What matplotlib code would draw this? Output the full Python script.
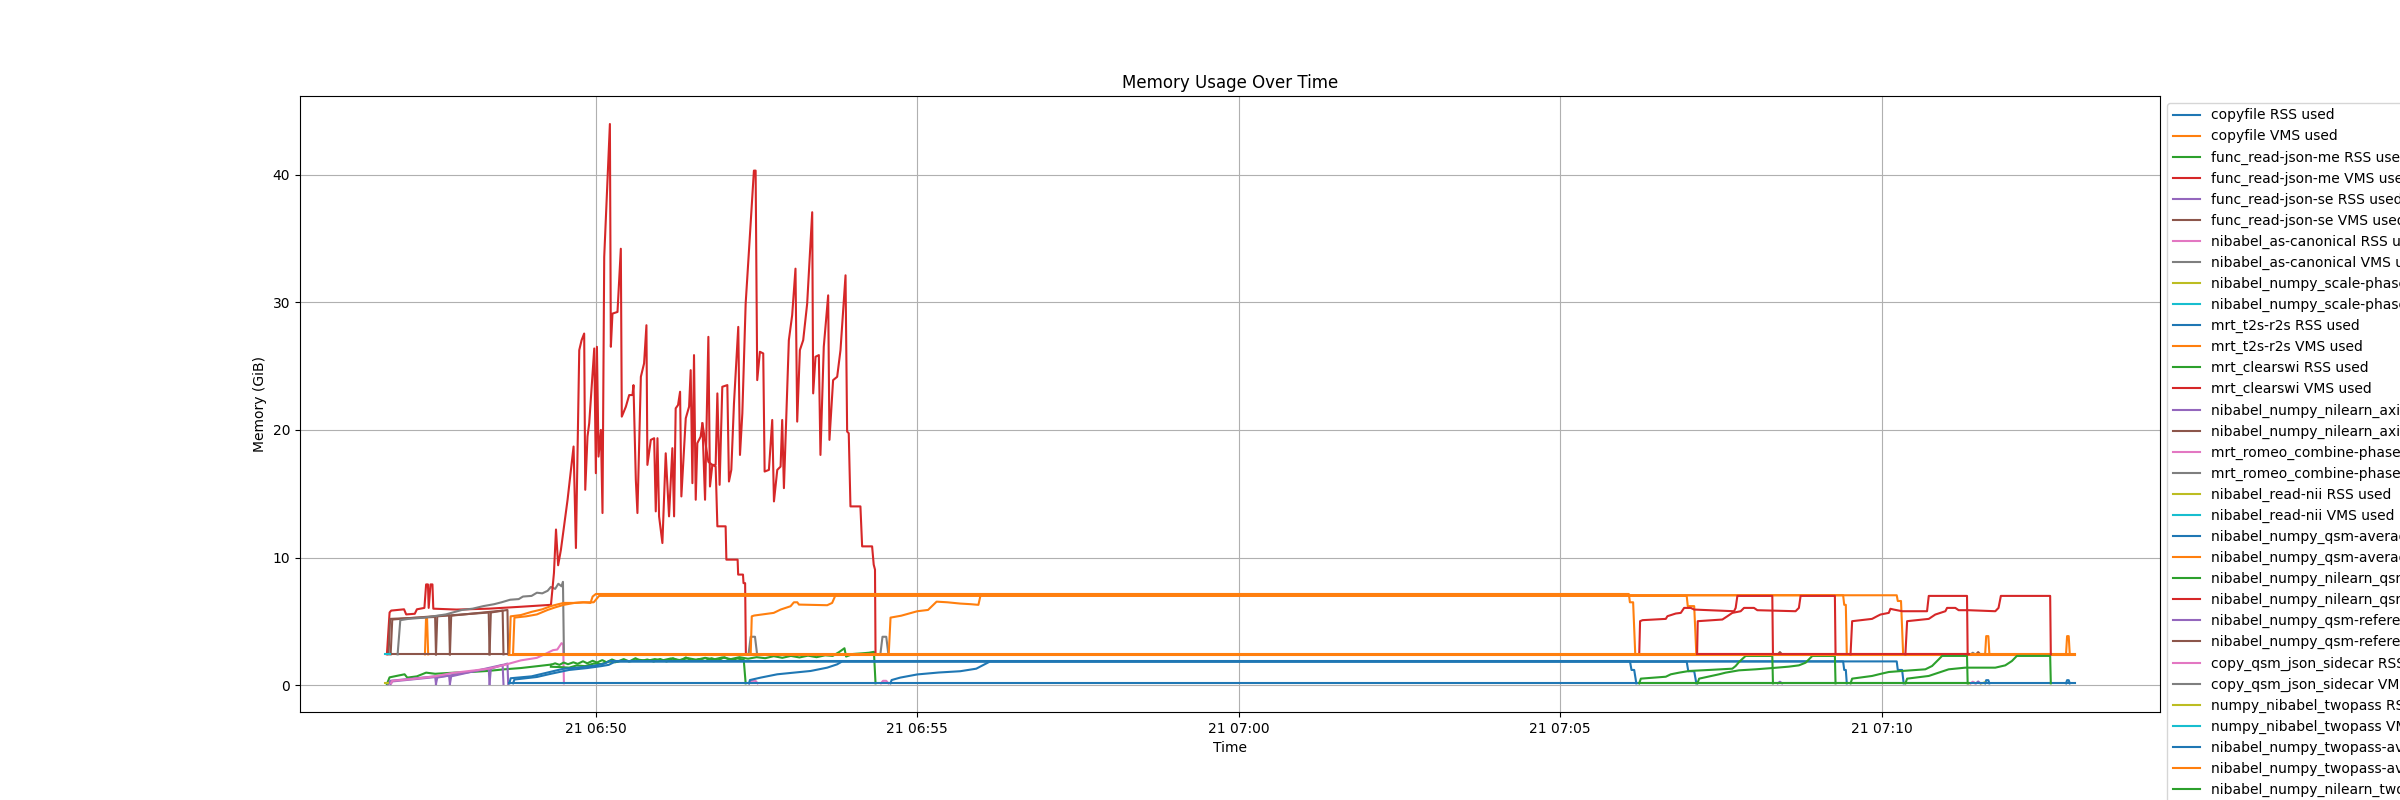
import matplotlib
matplotlib.use("Agg")
import matplotlib.pyplot as plt
import pandas as pd

# every sample is (seconds after 06:45:00, GiB used); one list per process run
t0 = pd.Timestamp("2025-01-21 06:45:00")

jobs = ["copyfile", "func_read-json-me", "func_read-json-se", "nibabel_as-canonical",
        "nibabel_numpy_scale-phase", "mrt_t2s-r2s", "mrt_clearswi",
        "nibabel_numpy_nilearn_axial-mask", "mrt_romeo_combine-phase", "nibabel_read-nii",
        "nibabel_numpy_qsm-average", "nibabel_numpy_nilearn_qsm-mask",
        "nibabel_numpy_qsm-reference", "copy_qsm_json_sidecar", "numpy_nibabel_twopass",
        "nibabel_numpy_twopass-average", "nibabel_numpy_nilearn_twopass-mask"]

copyfile_rss = [[(1596.5, 0.15), (1597.5, 0.4), (1599.5, 0.4), (1600.5, 0.15)],
                [(1672.0, 0.15), (1673.0, 0.4), (1674.5, 0.4), (1675.5, 0.15)]]
copyfile_vms = [[(140.5, 2.42), (141.5, 5.2), (142.5, 5.2), (143.5, 2.42)],
                [(1596.5, 2.42), (1597.5, 3.85), (1599.5, 3.85), (1600.5, 2.42)],
                [(1672.0, 2.42), (1673.0, 3.85), (1674.5, 3.85), (1675.5, 2.42)]]

json_me_rss = [[(105.0, 0.1), (107.5, 0.62), (115, 0.75), (121.5, 0.86), (124, 0.6), (133, 0.7),
                (141.6, 0.99), (150, 0.9), (168, 0.99), (185, 1.05), (199, 1.12), (214.6, 1.25),
                (230, 1.35), (245.7, 1.5), (258, 1.62)]]
json_me_vms = [[(105.0, 2.42), (107.5, 5.7), (109, 5.85), (121, 5.95), (123, 5.55), (131, 5.6),
                (133, 5.95), (140, 6.06), (141.6, 7.9), (143.3, 7.9), (144, 6.06), (145.7, 7.9),
                (147.5, 7.9), (148.3, 6.0), (170, 5.93), (200, 6.0), (230, 6.15), (258, 6.3)]]

json_se_rss = [[(106.5, 0.1), (108.0, 0.35), (150.0, 0.7), (150.8, 0.1)],
               [(108.5, 0.1), (110.0, 0.3), (163.0, 0.75), (163.8, 0.1)],
               [(150.8, 0.1), (152.0, 0.6), (200.0, 1.3), (200.8, 0.1)],
               [(163.8, 0.1), (165.0, 0.7), (213.0, 1.6), (213.8, 0.1)],
               [(200.8, 0.1), (202.0, 1.3), (217.5, 1.7), (218.2, 0.1)]]
json_se_vms = [[(108.0, 2.42), (218.2, 2.42)],
               [(106.5, 2.42), (108.0, 5.2), (150.0, 5.35), (150.8, 2.42)],
               [(108.5, 2.42), (110.0, 5.15), (163.0, 5.5), (163.8, 2.42)],
               [(150.8, 2.42), (152.0, 5.4), (200.0, 5.7), (200.8, 2.42)],
               [(163.8, 2.42), (165.0, 5.45), (213.0, 5.85), (213.8, 2.42)],
               [(200.8, 2.42), (202.0, 5.7), (217.5, 5.9), (218.2, 2.42)]]

canonical_rss = [[(109, 0.15), (110, 0.35), (130, 0.5), (150, 0.7), (165, 0.95), (180, 1.1),
                  (200, 1.3), (215, 1.6), (230, 1.95), (245, 2.15), (254, 2.5), (260, 2.75),
                  (264, 2.8), (268, 3.3), (269.5, 3.2), (270.2, 0.15)]]
canonical_vms = [[(115, 2.42), (117.5, 5.1), (125, 5.2), (140, 5.3), (160, 5.55), (175, 5.9),
                  (185, 6.0), (195, 6.2), (205, 6.35), (212, 6.5), (220, 6.7), (228, 6.75),
                  (232, 6.95), (240, 7.0), (245, 7.25), (250, 7.2), (255, 7.4), (258, 7.7),
                  (262, 7.55), (265, 7.95), (268, 7.75), (269.3, 8.1), (270.2, 2.42)]]

scale_phase_rss = [[(102.8, 0.15), (106.0, 0.15)]]
scale_phase_vms = [[(102.8, 2.42), (108.0, 2.42)]]

clearswi_rss = [[(258, 1.6), (262, 1.72), (266, 1.6), (270, 1.78), (274, 1.65), (279, 1.8),
                 (283, 1.68), (288, 1.88), (292, 1.72), (297, 1.92), (301, 1.78), (306, 1.97),
                 (310, 1.8), (315, 2.02), (320, 1.85), (326, 2.05), (331, 1.86), (337, 2.12),
                 (342, 1.9), (348, 2.02), (354, 1.86), (360, 2.06), (366, 1.86), (372, 2.12),
                 (378, 1.9), (384, 2.18), (390, 1.9), (396, 2.05), (402, 1.9), (408, 2.12),
                 (414, 1.95), (420, 2.2), (426, 1.95), (432, 2.1), (438, 2.0), (439.8, 0.15)],
                [(258, 1.45), (268, 1.42), (275, 1.38), (282, 1.55), (290, 1.5), (298, 1.7),
                 (305, 1.66), (312, 1.86), (318, 1.8), (325, 1.95), (332, 1.88), (340, 2.0),
                 (348, 1.92), (355, 2.05), (362, 1.95), (370, 2.1), (378, 1.98), (386, 2.12),
                 (394, 2.0), (402, 2.15), (410, 2.02), (418, 2.18), (426, 2.05), (434, 2.2),
                 (442, 2.08), (450, 2.2), (458, 2.12), (466, 2.28), (474, 2.15), (482, 2.3),
                 (490, 2.18), (498, 2.32), (506, 2.2), (514, 2.35), (521, 2.3), (527, 2.6),
                 (532, 2.9), (533.5, 2.25), (540, 2.45), (548, 2.5), (555, 2.55), (559.5, 2.62),
                 (561, 0.15)]]
clearswi_vms = [[(258.1, 6.3), (260.9, 8.8), (262.8, 12.2), (264.8, 9.4), (267.4, 10.62),
                 (273.6, 14.53), (279.2, 18.7), (281.4, 10.75), (284.5, 26.25), (286.7, 27.03),
                 (289.1, 27.55), (290.1, 15.31), (292.2, 19.48), (293.8, 20.52), (298.5, 26.38),
                 (300.0, 16.61), (301.0, 26.51), (302.5, 17.91), (304.7, 20.0), (306.2, 13.49),
                 (307.8, 33.54), (313.1, 43.96), (314.0, 26.51), (315.5, 29.11), (320.2, 29.24),
                 (323.3, 34.19), (324.2, 21.04), (328.0, 21.82), (331.1, 22.73), (334.2, 22.73),
                 (335.1, 23.51), (337.3, 16.09), (338.8, 13.49), (342.0, 24.16), (345.0, 25.21),
                 (347.2, 28.2), (348.1, 17.26), (351.3, 19.22), (354.4, 19.35), (355.9, 13.62),
                 (357.5, 19.35), (359.0, 13.23), (362.1, 11.14), (365.2, 18.17), (368.3, 13.23),
                 (371.4, 18.57), (373.0, 13.23), (374.5, 21.69), (376.7, 21.95), (378.6, 22.99),
                 (379.8, 14.79), (383.9, 20.91), (387.0, 21.82), (388.5, 24.68), (390.1, 15.83),
                 (391.6, 25.86), (393.2, 14.53), (394.7, 18.96), (397.8, 19.48), (399.4, 20.52),
                 (401.9, 14.53), (405.0, 27.29), (406.5, 15.57), (408.7, 17.26), (411.8, 17.26),
                 (413.4, 22.86), (415.5, 15.7), (418.0, 23.38), (422.7, 23.51), (424.2, 15.96),
                 (426.4, 16.87), (428.9, 22.08), (432.9, 28.07), (434.5, 18.04), (436.7, 21.3),
                 (439.8, 29.89), (442.9, 34.06), (447.5, 40.31), (449.1, 40.31), (450.6, 23.9),
                 (453.1, 26.12), (456.2, 25.99), (457.5, 16.74), (461.5, 16.87), (464.6, 20.78),
                 (466.2, 14.4), (469.3, 16.87), (472.4, 17.13), (473.9, 20.78), (475.5, 15.44),
                 (480.1, 27.03), (483.2, 28.98), (486.3, 32.63), (487.9, 20.65), (490.4, 26.25),
                 (493.5, 27.03), (497.2, 29.89), (501.9, 37.05), (502.8, 22.86), (505.0, 25.73),
                 (508.1, 25.86), (509.6, 18.04), (512.7, 26.51), (516.8, 30.54), (518.0, 19.22),
                 (521.4, 23.9), (525.2, 24.16), (528.3, 26.25), (533.0, 32.11), (534.5, 19.87),
                 (536.0, 19.74), (537.6, 14.01), (546.9, 14.01), (548.5, 10.88), (557.8, 10.88),
                 (559.3, 9.45), (560.5, 9.06), (561.0, 2.42)],
                [(399.4, 20.52), (405.0, 17.5), (408.7, 17.26), (411.8, 17.13), (413.4, 12.45),
                 (421.1, 12.45), (421.8, 9.84), (432.3, 9.84), (432.8, 8.67), (437.3, 8.67),
                 (437.8, 8.0), (439.3, 8.0), (440.0, 2.42)]]

axial_rss = [[(1403, 0.15), (1405, 0.28), (1407, 0.15)]]
axial_vms = [[(1403, 2.42), (1405, 2.6), (1407, 2.42)]]

romeo_rss = [[(443, 0.15), (445, 0.35), (449, 0.35), (451, 0.15)],
             [(566, 0.15), (568, 0.35), (571, 0.35), (573, 0.15)]]
romeo_vms = [[(442.5, 2.42), (444.5, 3.8), (448.5, 3.8), (450.5, 2.42)],
             [(565.5, 2.42), (567.5, 3.8), (571.0, 3.8), (573.0, 2.42)]]

read_nii_rss = [[(1581, 0.15), (1586, 0.2)]]
read_nii_vms = [[(1581, 2.42), (1586, 2.45)]]

qsm_avg_rss = [[(219.3, 0.15), (220.5, 0.55), (240, 0.7), (255, 1.0), (270, 1.3), (285, 1.4),
                (300, 1.55), (308, 1.7), (313, 1.9), (1265, 1.9), (1266.5, 1.2), (1269, 1.2),
                (1271, 0.15)],
               [(222.7, 0.15), (224, 0.45), (245, 0.65), (258, 0.9), (275, 1.2), (292, 1.35),
                (305, 1.5), (312, 1.6), (318, 1.85), (1318, 1.85), (1319.5, 1.1), (1325, 1.1),
                (1327, 0.15)],
               [(442.9, 0.15), (443.8, 0.41), (453.8, 0.6), (469.3, 0.86), (484.8, 0.99),
                (500.4, 1.12), (515.9, 1.38), (525.2, 1.64), (529.9, 1.87), (1464, 1.87),
                (1465, 1.2), (1466.5, 1.2), (1467.4, 0.15)],
               [(574.9, 0.15), (576, 0.41), (584, 0.6), (600, 0.85), (620, 1.0), (640, 1.1),
                (655, 1.3), (668, 1.87), (1514, 1.87), (1515, 1.2), (1519, 1.2), (1520.5, 0.15)]]
qsm_avg_vms = [[(219.3, 2.42), (220.5, 5.4), (230, 5.5), (240, 5.75), (250, 5.95), (258, 6.2),
                (265, 6.35), (270, 6.45), (280, 6.45), (288, 6.5), (295, 6.45), (297, 6.95),
                (300, 7.15), (1264, 7.15), (1265, 6.5), (1268, 6.5), (1270, 2.42)],
               [(222.7, 2.42), (224, 5.3), (235, 5.4), (245, 5.55), (255, 5.9), (262, 6.1),
                (270, 6.3), (280, 6.45), (290, 6.5), (298, 6.5), (301, 6.8), (303, 7.0),
                (1318, 7.0), (1319, 6.2), (1325, 6.2), (1327, 2.42)],
               [(444.5, 2.42), (445.5, 5.4), (447.6, 5.46), (466, 5.67), (472.4, 5.93),
                (481.7, 6.19), (484.8, 6.5), (488, 6.5), (489.5, 6.32), (515.9, 6.27),
                (520.5, 6.45), (523.6, 7.05), (1464, 7.05), (1465, 6.3), (1466.5, 6.3),
                (1467.4, 2.42)],
               [(573.3, 2.42), (575, 5.3), (585, 5.45), (600, 5.8), (610, 5.9), (618, 6.55),
                (628, 6.5), (640, 6.4), (650, 6.35), (657, 6.3), (659, 7.05), (1514, 7.05),
                (1515, 6.6), (1518, 6.6), (1520, 2.42)]]

nilearn_qsm_rss = [[(1273.7, 0.15), (1275.2, 0.52), (1298.5, 0.67), (1303.2, 0.86), (1311, 0.99),
                    (1320.3, 1.12), (1338.9, 1.2), (1360.6, 1.3), (1363.7, 1.51), (1366.8, 1.82),
                    (1373.0, 2.3), (1397.9, 2.3), (1398.5, 0.15)],
                   [(1328, 0.15), (1329.6, 0.52), (1348.2, 0.86), (1354.4, 0.99), (1366.8, 1.17),
                    (1382.4, 1.25), (1397.9, 1.35), (1413.4, 1.46), (1422.7, 1.56), (1429, 1.77),
                    (1433.6, 2.16), (1435.2, 2.3), (1456.3, 2.3), (1456.9, 0.15)]]
nilearn_qsm_vms = [[(1273.7, 2.42), (1274.5, 5.02), (1276.8, 5.1), (1298.5, 5.2), (1300, 5.41),
                    (1307.8, 5.62), (1312.5, 5.67), (1315.6, 6.06), (1321.8, 6.06), (1325, 5.93),
                    (1339, 5.88), (1362.2, 5.8), (1363.7, 6.06), (1365.3, 7.0), (1397.9, 7.0),
                    (1398.5, 2.42)],
                   [(1327.7, 2.42), (1328.3, 5.02), (1351.3, 5.15), (1356, 5.41), (1360.6, 5.67),
                    (1368.4, 5.8), (1371.5, 6.06), (1380.8, 6.06), (1383.9, 5.88), (1419.6, 5.8),
                    (1422.7, 6.06), (1424.3, 7.0), (1456.3, 7.0), (1456.9, 2.42)]]

qsm_ref_rss = [[(1588, 0.15), (1590, 0.3), (1592, 0.15)]]
qsm_ref_vms = [[(1588, 2.42), (1590, 2.6), (1592, 2.42)]]

sidecar_rss = [[(1583, 0.15), (1585, 0.28), (1587, 0.15)]]
sidecar_vms = [[(1583, 2.42), (1585, 2.55), (1587, 2.42)]]

twopass_rss = [[(1593, 0.15), (1596, 0.22)]]
twopass_vms = [[(1593, 2.42), (1596, 2.42)]]

twopass_avg_rss = [[(219.3, 0.15), (1680.8, 0.15)]]
twopass_avg_vms = [[(219.3, 2.37), (1680.8, 2.37)], [(222.7, 2.47), (1680.0, 2.47)]]

nilearn_two_rss = [[(1273.7, 0.15), (1581, 0.15)],
                   [(1470.9, 0.15), (1472.4, 0.52), (1491, 0.73), (1497.3, 0.86), (1506.6, 1.04),
                    (1519, 1.12), (1540.7, 1.25), (1547, 1.51), (1553.2, 2.03), (1556.3, 2.3),
                    (1579.6, 2.3), (1580.2, 0.15)],
                   [(1522.1, 0.15), (1523.7, 0.52), (1543.9, 0.73), (1553.2, 0.99), (1562.5, 1.25),
                    (1578, 1.38), (1606, 1.38), (1615.3, 1.56), (1621.5, 1.9), (1626.1, 2.3),
                    (1657.2, 2.3), (1657.8, 0.15)]]
nilearn_two_vms = [[(1328, 2.42), (1581, 2.42)],
                   [(1470.9, 2.42), (1472.4, 5.02), (1491, 5.2), (1495.7, 5.41), (1498.8, 5.54),
                    (1506.6, 5.67), (1508.1, 5.99), (1511.2, 5.93), (1519, 5.8), (1542.3, 5.8),
                    (1543.9, 7.0), (1579.6, 7.0), (1580.2, 2.42)],
                   [(1522.1, 2.42), (1523.7, 5.02), (1543.9, 5.2), (1550, 5.54), (1559.4, 5.8),
                    (1561, 6.06), (1568.7, 6.06), (1571.8, 5.88), (1581.1, 5.88), (1606, 5.8),
                    (1609, 6.06), (1611.2, 7.0), (1657.2, 7.0), (1657.8, 2.42)]]

runs = [copyfile_rss, copyfile_vms, json_me_rss, json_me_vms, json_se_rss, json_se_vms,
        canonical_rss, canonical_vms, scale_phase_rss, scale_phase_vms, [], [],
        clearswi_rss, clearswi_vms, axial_rss, axial_vms, romeo_rss, romeo_vms,
        read_nii_rss, read_nii_vms, qsm_avg_rss, qsm_avg_vms, nilearn_qsm_rss, nilearn_qsm_vms,
        qsm_ref_rss, qsm_ref_vms, sidecar_rss, sidecar_vms, twopass_rss, twopass_vms,
        twopass_avg_rss, twopass_avg_vms, nilearn_two_rss, nilearn_two_vms]

fig, ax = plt.subplots(figsize=(24, 8), dpi=100)

for i, series in enumerate(runs):
    job = jobs[i // 2]
    kind = "RSS" if i % 2 == 0 else "VMS"
    label = f"{job} {kind} used"
    color = f"C{i % 10}"
    if not series:
        ax.plot([], [], color=color, label=label)
        continue
    for k, run in enumerate(series):
        secs = [p[0] for p in run]
        gib = [p[1] for p in run]
        times = (t0 + pd.to_timedelta(secs, unit="s")).to_numpy()
        ax.plot(times, gib, color=color, label=label if k == 0 else "_nolegend_")

ax.set_title("Memory Usage Over Time")
ax.set_xlabel("Time")
ax.set_ylabel("Memory (GiB)")
ax.grid(True)
ax.legend(loc="upper left", bbox_to_anchor=(1, 1))

fig.savefig("out.png")
